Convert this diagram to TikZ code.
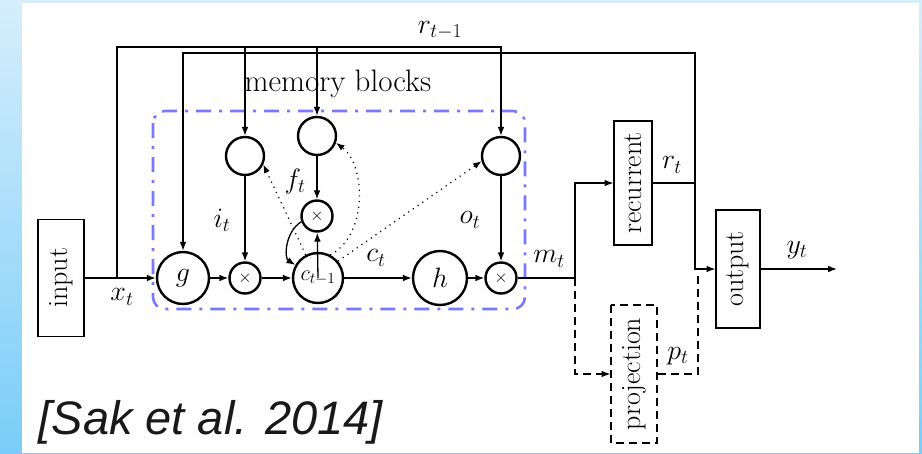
\RequirePackage{fix-cm}
\documentclass[tikz,border=0pt]{standalone}
\usepackage[no-math]{fontspec}
\newfontfamily\citefont{Liberation Sans}
\usetikzlibrary{arrows.meta,positioning}
\definecolor{blockblue}{RGB}{120,120,255}
\definecolor{edgetop}{RGB}{214,238,252}
\definecolor{edgebot}{RGB}{122,205,249}

\begin{document}
\begin{tikzpicture}[x=1pt, y=-1pt, >=Latex, line width=1.3pt,
  every node/.style={font=\fontsize{28}{32}\selectfont},
  unit/.style={draw, circle, line width=2.4pt, inner sep=0pt},
  gate/.style={unit, minimum size=38pt},
  mult/.style={unit, minimum size=31pt, font=\fontsize{17}{20}\selectfont},
  layer/.style={draw, rotate=90, line width=1.2pt, inner sep=0pt},
  peep/.style={line width=1.2pt, dash pattern=on 1.2pt off 4.5pt},
  optional/.style={dash pattern=on 8pt off 5pt}]
% background frame
\fill[top color=edgetop, bottom color=edgebot] (0,0) rectangle (922,453);
\fill[white] (22,3) rectangle (919,453);
\useasboundingbox (0,0) rectangle (922,453);
% memory block
\draw[blockblue, line width=2.6pt, rounded corners=12pt, dash pattern=on 15pt off 8pt on 3pt off 8pt] (153,111) rectangle (525,309);
\node[font=\fontsize{31}{34}\selectfont] (mem) at (338,84) {memory blocks};
% units
\node[layer, minimum width=117pt, minimum height=46pt] (input) at (61,278) {input};
\node[unit, minimum size=52pt] (g) at (183,278) {$g$};
\node[mult] (gx) at (245,278) {$\times$};
\node[unit, minimum size=50pt, font=\fontsize{22}{26}\selectfont] (c) at (318,278) {$c_{t-1}$};
\node[unit, minimum size=54pt] (h) at (440,278) {$h$};
\node[mult] (ox) at (501,278) {$\times$};
\node[gate] (ig) at (245,156) {};
\node[gate] (fg) at (317,136) {};
\node[gate] (og) at (501,156) {};
\node[mult] (fx) at (317,216) {$\times$};
\node[layer, minimum width=124pt, minimum height=38pt] (rec) at (633,183) {recurrent};
\node[layer, minimum width=118pt, minimum height=44pt] (out) at (738,269) {output};
\node[layer, optional, minimum width=138pt, minimum height=46pt] (proj) at (634,374) {projection};
% labels
\node (xt) at (122,297) {$x_t$};
\node (it) at (222,220) {$i_t$};
\node (ft) at (295,181) {$f_t$};
\node (ot) at (470,220) {$o_t$};
\node (ct) at (376,258) {$c_t$};
\node (mt) at (549,259) {$m_t$};
\node (rt) at (672,165) {$r_t$};
\node (pt) at (678,356) {$p_t$};
\node (yt) at (797,250) {$y_t$};
\node (rprev) at (440,30) {$r_{t-1}$};
\node[anchor=west, inner sep=0pt, text=black!90, font=\citefont\itshape\fontsize{47}{50}\selectfont] (cite) at (38,422) {[Sak et al. 2014]};
% joints
\coordinate (xj) at (117,278);
\coordinate (xtop) at (117,47);
\coordinate (rj) at (695,183);
\coordinate (rtop) at (695,53);
\coordinate (mj) at (575,278);
\coordinate (pj) at (698,272);
\coordinate (yend) at (837,269);
% connections
\draw[->] (input) -- (g);
\draw[->] (xj) -- (xtop) -| (og);
\draw[->] (ig |- xtop) -- (ig);
\draw[->] (fg |- xtop) -- (fg);
\draw[->] (rec) -- (rj) -- (rtop) -| (g);
\draw[->] (rj) |- (out);
\draw[->] (out) -- (yend);
\draw[->] (g) -- (gx);
\draw[->] (gx) -- (c);
\draw[->] (c) -- (h);
\draw[->] (h) -- (ox);
\draw[->] (ig) -- (gx);
\draw[->] (fg) -- (fx);
\draw[->] (og) -- (ox);
\draw[->] (c.center) -- (fx);
\draw[->] (fx.200) .. controls (285,232) and (284,258) .. (c.150);
\draw (ox) -- (mj);
\draw[->] (mj) |- (rec);
\draw[->, optional] (mj) |- (proj);
\draw[optional] (proj) -| (pj);
% peepholes
\draw[peep, ->] (c.118) -- (ig.-25);
\draw[peep, ->] (c.62) .. controls (368,235) and (366,165) .. (fg.-20);
\draw[peep, ->] (c.40) -- (og.195);
\end{tikzpicture}
\end{document}
